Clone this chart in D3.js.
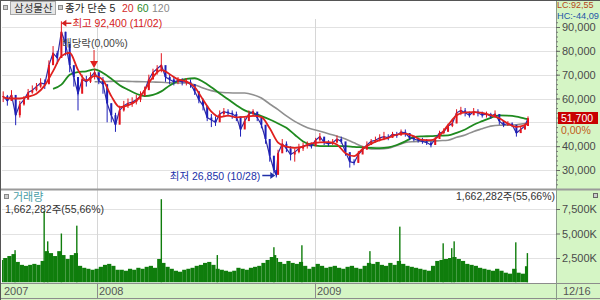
<!DOCTYPE html>
<html><head><meta charset="utf-8">
<script src="https://cdn.jsdelivr.net/npm/d3@7"></script>
<style>
body{margin:0;background:#fff;}
svg{display:block;font-family:"Liberation Sans","Noto Sans CJK KR",Arial,sans-serif;}
</style>
</head><body>
<svg id="c" width="600" height="300"></svg>
<script>
// ---------------- DATA ----------------
const priceDates = [
"2007-07-27","2007-08-03","2007-08-10","2007-08-17","2007-08-24","2007-08-31","2007-09-07","2007-09-14","2007-09-21","2007-09-28","2007-10-05","2007-10-12","2007-10-19","2007-10-26","2007-11-02","2007-11-09","2007-11-16","2007-11-23","2007-11-30","2007-12-07","2007-12-14","2007-12-21","2007-12-28",
"2008-01-04","2008-01-11","2008-01-18","2008-01-25","2008-02-01","2008-02-08","2008-02-15","2008-02-22","2008-02-29","2008-03-07","2008-03-14","2008-03-21","2008-03-28","2008-04-04","2008-04-11","2008-04-18","2008-04-25","2008-05-02","2008-05-09","2008-05-16","2008-05-23","2008-05-30","2008-06-06","2008-06-13","2008-06-20","2008-06-27","2008-07-04","2008-07-11","2008-07-18","2008-07-25","2008-08-01","2008-08-08","2008-08-15","2008-08-22","2008-08-29","2008-09-05","2008-09-12","2008-09-19","2008-09-26","2008-10-03","2008-10-10","2008-10-17","2008-10-24","2008-10-28","2008-10-31","2008-11-07","2008-11-14","2008-11-21","2008-11-28","2008-12-05","2008-12-12","2008-12-19","2008-12-26",
"2009-01-02","2009-01-09","2009-01-16","2009-01-23","2009-01-30","2009-02-06","2009-02-13","2009-02-20","2009-02-27","2009-03-06","2009-03-13","2009-03-20","2009-03-27","2009-04-03","2009-04-10","2009-04-17","2009-04-24","2009-05-01","2009-05-08","2009-05-15","2009-05-22","2009-05-29","2009-06-05","2009-06-12","2009-06-19","2009-06-26","2009-07-03","2009-07-10","2009-07-17","2009-07-24","2009-07-31","2009-08-07","2009-08-14","2009-08-21","2009-08-28","2009-09-04","2009-09-11","2009-09-18","2009-09-25","2009-10-02","2009-10-09","2009-10-16","2009-10-23","2009-10-30","2009-11-06","2009-11-13","2009-11-20","2009-11-27","2009-12-04","2009-12-11","2009-12-16"
];
const closes = [
61000,59000,61500,53000,57500,59500,62500,63500,65000,66500,66000,74000,79000,77000,88000,83000,74000,69000,62000,68000,67000,69000,71000,
67500,66000,58000,53000,49000,55000,57000,58000,58500,59500,61000,63500,68000,71000,72500,74000,69000,68000,67000,67500,67000,67000,66000,63000,59500,57000,52000,51000,50000,53500,54500,54000,53500,52500,47000,50500,53500,54500,52000,49000,43000,36000,30000,28000,37000,41000,39000,36500,37500,39000,40000,40500,40000,
42500,44000,41500,41000,41500,43000,42000,37500,33500,33000,36500,38500,40500,42000,42500,43500,44000,43500,45000,44500,46000,45500,43500,43000,42500,42000,41500,40500,43000,45500,46000,48500,49500,54000,55000,54000,53000,54500,54000,53000,53500,52500,53500,50500,49000,49500,49000,45500,47000,48500,51700
];
const highs = [
63000,61500,63500,60000,59000,61000,64000,65500,66500,68500,68000,76000,82000,80000,92400,88000,79000,73000,69000,70000,69500,71000,72500,
71000,69000,63000,58000,54000,57000,59000,60000,60500,61500,63000,65000,70000,72500,74000,79000,73000,70000,69000,69000,68500,68500,68000,66000,63000,60000,56000,53500,52500,55000,56000,55500,55000,54500,51000,52000,55000,55500,54000,51000,47000,41000,34000,30000,38500,43000,42000,40000,39000,41000,41500,42000,41500,
43500,45500,43500,42500,43000,44500,44000,41000,36000,34500,38000,40000,42000,43000,44000,45000,46000,45000,46000,46000,47000,47000,45500,44500,43500,43500,43000,42000,44000,46500,47500,49500,51000,55500,56500,56000,54500,56000,55500,54500,54500,54000,55000,53000,50500,50500,50000,48500,48500,49500,52500
];
const lows = [
58500,57000,59000,48800,52000,57000,60000,62000,63000,64500,64000,66000,74000,74500,80000,78000,71000,65000,55000,64000,65000,66500,68000,
66000,62000,50000,50000,46000,50000,54500,56000,56500,57500,58500,61000,64000,68000,70000,71000,67000,66000,65500,66000,65500,65500,64500,61500,58000,55000,50500,48000,48500,51000,52500,52500,51500,50500,44000,47500,52000,52500,50500,47500,41000,33500,28500,26850,28000,38000,37500,34000,33500,37000,38000,39000,39000,
40000,42000,40500,40000,40500,41500,41000,36000,31000,32000,33000,37000,39000,40500,41500,42000,42500,42500,43500,43500,44500,44000,42500,42000,41500,41000,40500,39500,40500,44000,45000,46500,48000,52000,53000,52500,52000,53000,52500,52000,52000,51500,52000,49000,48000,48500,48000,44000,45500,47000,48500
];
// weekly volume, thousand shares
const volumes = [
2300,2500,2700,2900,2100,1800,1700,1800,1900,1800,2200,3200,3000,2700,3200,2800,2400,2800,3000,1700,1500,1400,1300,
1400,1600,1800,1900,1700,1300,1300,1200,1400,1300,1500,1400,1600,1700,1500,2400,2000,1600,1400,1200,1100,1300,1400,1500,1700,1800,2000,2100,1800,1400,1300,1200,1100,1200,1500,1400,1300,1500,1600,1700,2000,2300,2600,2800,2500,2100,1900,2200,2000,1900,2100,1700,1400,
1600,1900,1700,1500,1600,1700,1500,1400,1600,1700,1500,1400,1700,2000,1900,2100,1800,1700,2000,1800,2200,1900,1700,1600,1500,1400,1300,1200,1700,2200,2300,2400,2500,2600,2400,2200,1900,1800,1700,1500,1400,1300,1200,1400,1200,1000,900,1400,1000,900,1662
];
// single-day volume spikes, thousand shares
const spikeDates = ["2007-08-16","2007-10-04","2007-10-10","2007-11-02","2007-11-28","2008-04-18","2008-07-21","2008-10-24","2008-12-10","2009-04-01","2009-05-20","2009-07-30","2009-08-13","2009-08-17","2009-11-26","2009-12-15"];
const spikeVolumes = [3300,7300,4200,5000,5800,8500,2800,3600,3800,3200,5700,4000,3500,4200,4100,3000];

const maDates = [
"2007-07-27","2007-08-10","2007-08-24","2007-09-07","2007-09-21","2007-10-05","2007-10-19","2007-11-02","2007-11-16","2007-11-30","2007-12-14","2007-12-28",
"2008-01-11","2008-01-25","2008-02-08","2008-02-22","2008-03-07","2008-03-21","2008-04-04","2008-04-18","2008-05-02","2008-05-16","2008-05-30","2008-06-13","2008-06-27","2008-07-11","2008-07-25","2008-08-08","2008-08-22","2008-09-05","2008-09-19","2008-10-03","2008-10-17","2008-10-31","2008-11-14","2008-11-28","2008-12-12","2008-12-26",
"2009-01-09","2009-01-23","2009-02-06","2009-02-20","2009-03-06","2009-03-20","2009-04-03","2009-04-17","2009-05-01","2009-05-15","2009-05-29","2009-06-12","2009-06-26","2009-07-10","2009-07-24","2009-08-07","2009-08-21","2009-09-04","2009-09-18","2009-10-02","2009-10-16","2009-10-30","2009-11-13","2009-11-27","2009-12-11","2009-12-16"
];
const ma20 = [
60500,60000,60000,60800,62000,65500,71500,77800,79200,72000,67500,69500,
67700,61000,56400,57100,59000,63500,69000,72000,70200,68000,67200,64800,59500,54500,52300,52800,52100,52300,52700,52200,47500,41500,39800,39300,39800,41200,
41600,41700,40700,37000,35800,38800,41000,42500,43500,44800,45300,44100,42600,42500,44400,48800,53000,54200,54300,54000,53000,51700,49500,48100,48800,49700
];
const ma60 = [
null,null,null,null,null,null,64000,65800,70000,71100,71400,72200,
70700,68300,65600,63700,62000,61000,61500,63000,65500,67300,68200,68500,67000,64700,62100,59700,57200,55000,53800,52600,51200,49500,47700,44800,42000,40600,
40000,40000,40000,40000,39700,39500,39300,39200,39500,40500,42000,43800,44100,44200,44400,44500,45600,47000,49000,50500,51900,52900,52800,52400,51600,51400
];
const ma120 = [
null,null,null,null,null,null,null,null,null,null,null,67000,
67100,67200,67300,67200,67100,67000,66900,66800,66600,66500,66500,65800,64400,63300,62600,62400,62300,62300,61600,60200,57700,55300,52700,50400,48600,47200,
46300,45200,44200,43000,41400,39900,38800,38800,39100,40300,41500,41900,42100,42100,42300,42500,43700,44700,46200,47300,48400,48800,48800,49000,49500,49700
];
const gridTicks = [30000,40000,50000,60000,70000,80000,90000];
const priceLabelTicks = [30000,40000,60000,70000,80000,90000];
const volumeTicks = [2500,5000,7500];
const yearLabels = ["2007","2008","2009"];
const yearDates = ["2007-07-25","2008-01-01","2009-01-01"];
const lastDateLabel = "12/16";
const peak = {date:"2007-11-02", value:92400, label:"최고 92,400 (11/02)"};
const trough = {date:"2008-10-28", value:26850, label:"최저 26,850 (10/28)"};
const exDiv = {date:"2007-12-27", label:"배당락(0,00%)"};
const lastPrice = 51700;
const lastChange = "0,00%";
const volumeLabel = "1,662,282주(55,66%)";
const headerItems = [{t:"종가 단순 5",c:"#222"},{t:"20",c:"#d42a2a"},{t:"60",c:"#2a8a2a"},{t:"120",c:"#8a8a8a"}];

// ---------------- CHART ----------------
const parse = d3.timeParse("%Y-%m-%d");
const svg = d3.select("#c");
const L = 2, R = 556, mainTop = 19, mainBot = 188, volTop = 191, volBot = 282.5;
const GREEN_BG = "#d5f5c5";

const x = d3.scaleTime()
  .domain([parse("2007-07-25"), parse("2008-01-01"), parse("2009-01-01"), parse("2009-12-16")])
  .range([2, 97, 315, 528]);
const y = d3.scaleLinear().domain([30000, 90000]).range([170, 27]);
const yv = d3.scaleLinear().domain([0, 7500]).range([volBot, 209]);

const fmt = d3.format(",");

// clips
const defs = svg.append("defs");
defs.append("clipPath").attr("id","mainClip").append("rect").attr("x",L).attr("y",mainTop).attr("width",R-L).attr("height",mainBot-mainTop);
defs.append("clipPath").attr("id","volClip").append("rect").attr("x",L).attr("y",volTop).attr("width",R-L).attr("height",volBot-volTop);

// backgrounds
svg.append("rect").attr("x",R).attr("y",0).attr("width",600-R).attr("height",300).attr("fill",GREEN_BG);
svg.append("rect").attr("x",0).attr("y",283).attr("width",R).attr("height",17).attr("fill",GREEN_BG);

// grid lines
const grid = svg.append("g").attr("stroke","#e2e2e2").attr("stroke-width",1);
gridTicks.forEach(v => grid.append("line").attr("x1",L).attr("x2",R).attr("y1",Math.round(y(v))+0.5).attr("y2",Math.round(y(v))+0.5));
volumeTicks.forEach(v => grid.append("line").attr("x1",L).attr("x2",R).attr("y1",Math.round(yv(v))+0.5).attr("y2",Math.round(yv(v))+0.5));
yearDates.slice(1).forEach(d => grid.append("line").attr("x1",Math.round(x(parse(d)))+0.5).attr("x2",Math.round(x(parse(d)))+0.5).attr("y1",mainTop).attr("y2",volBot).attr("stroke","#d6d6d6"));

// price data
const data = priceDates.map((d,i)=>({
  date: parse(d), c: closes[i], h: highs[i], l: lows[i], v: volumes[i],
  prev: i === 0 ? closes[0] : closes[i-1]
}));
data.forEach(d => d.up = d.c >= d.prev);
const UP = "#e3141c", DOWN = "#1d1fb8";

const mg = svg.append("g").attr("clip-path","url(#mainClip)");

const maLine = arr => d3.line()
  .defined((d,i)=>arr[i] !== null)
  .x((d)=>x(parse(d)))
  .y((d,i)=>y(arr[i]))
  .curve(d3.curveMonotoneX);

mg.append("path").attr("d", maLine(ma120)(maDates)).attr("fill","none").attr("stroke","#8f8f8f").attr("stroke-width",1.6);
mg.append("path").attr("d", maLine(ma60)(maDates)).attr("fill","none").attr("stroke","#1f8a1f").attr("stroke-width",1.8);

// candles
mg.append("path")
  .attr("d", d3.line().x(d=>x(d.date)).y(d=>y(d.c))(data))
  .attr("fill","none").attr("stroke","#2f2aa6").attr("stroke-width",1.2);
mg.selectAll("line.wick").data(data).join("line")
  .attr("x1",d=>x(d.date)).attr("x2",d=>x(d.date))
  .attr("y1",d=>y(d.h)).attr("y2",d=>y(d.l))
  .attr("stroke",d=>d.up?UP:DOWN).attr("stroke-width",1);
mg.selectAll("rect.body").data(data).join("rect")
  .attr("x",d=>x(d.date)-1).attr("width",2)
  .attr("y",d=>y(Math.max(d.prev,d.c)))
  .attr("height",d=>Math.max(1, Math.abs(y(d.prev)-y(d.c))))
  .attr("fill",d=>d.up?UP:DOWN);

mg.append("path").attr("d", maLine(ma20)(maDates)).attr("fill","none").attr("stroke","#e0201e").attr("stroke-width",1.8);

// volume bars
const vg = svg.append("g").attr("clip-path","url(#volClip)");
const VOL = "#0f7d0c";
vg.selectAll("rect.vol").data(data).join("rect")
  .attr("x",(d,i)=> i===0 ? x(d.date)-4 : x(data[i-1].date))
  .attr("width",(d,i)=> i===0 ? 4 : Math.max(0.5, x(d.date)-x(data[i-1].date)))
  .attr("y",d=>yv(d.v)).attr("height",d=>volBot-yv(d.v))
  .attr("fill",VOL);
vg.selectAll("rect.spike").data(spikeDates).join("rect")
  .attr("x",d=>x(parse(d))-0.7).attr("width",1.4)
  .attr("y",(d,i)=>yv(spikeVolumes[i])).attr("height",(d,i)=>volBot-yv(spikeVolumes[i]))
  .attr("fill",VOL);

// panel separators / frame
svg.append("line").attr("x1",0).attr("x2",600).attr("y1",189.5).attr("y2",189.5).attr("stroke","#9a9a9a").attr("stroke-width",2);
svg.append("line").attr("x1",0).attr("x2",600).attr("y1",283.5).attr("y2",283.5).attr("stroke","#8c8c8c");
svg.append("line").attr("x1",0).attr("x2",600).attr("y1",298.5).attr("y2",298.5).attr("stroke","#8c8c8c");
svg.append("line").attr("x1",R+0.5).attr("x2",R+0.5).attr("y1",0).attr("y2",300).attr("stroke","#8a9a8a");
svg.append("line").attr("x1",0.5).attr("x2",0.5).attr("y1",0).attr("y2",300).attr("stroke","#555");
svg.append("line").attr("x1",0).attr("x2",600).attr("y1",0.5).attr("y2",0.5).attr("stroke","#555");
yearDates.slice(1).forEach(d => svg.append("line").attr("x1",Math.round(x(parse(d)))+0.5).attr("x2",Math.round(x(parse(d)))+0.5).attr("y1",284).attr("y2",298).attr("stroke","#8c8c8c"));

// right price axis
const minor = svg.append("g").attr("transform",`translate(${R},0)`)
  .call(d3.axisRight(y).tickValues(d3.range(24000, 94000, 2000)).tickFormat("").tickSize(2));
minor.select(".domain").remove();
minor.selectAll("line").attr("stroke","#777");
const pa = svg.append("g").attr("transform",`translate(${R},0)`)
  .call(d3.axisRight(y).tickValues(priceLabelTicks).tickFormat(fmt).tickSize(4).tickPadding(2));
pa.select(".domain").remove();
pa.selectAll("line").attr("stroke","#666");
pa.selectAll("text").attr("font-size",11).attr("fill","#4a4a4a").attr("font-family","Liberation Sans, Arial, sans-serif");

// right volume axis
const va = svg.append("g").attr("transform",`translate(${R},0)`)
  .call(d3.axisRight(yv).tickValues(volumeTicks).tickFormat(d=>fmt(d)+"K").tickSize(4).tickPadding(2));
va.select(".domain").remove();
va.selectAll("line").attr("stroke","#666");
va.selectAll("text").attr("font-size",11).attr("fill","#4a4a4a").attr("font-family","Liberation Sans, Arial, sans-serif");

// bottom date labels
const tl = svg.append("g").attr("font-size",11).attr("fill","#555");
yearLabels.forEach((t,i)=> tl.append("text").attr("x",Math.round(x(parse(yearDates[i])))+2).attr("y",295).text(t));
tl.append("text").attr("x",563).attr("y",295).text(lastDateLabel);

// header
svg.append("rect").attr("x",3.5).attr("y",5.5).attr("width",4).attr("height",4).attr("fill","#ccc").attr("stroke","#888");
svg.append("rect").attr("x",10.5).attr("y",1.5).attr("width",45).attr("height",13).attr("fill","#e6e6e6").attr("stroke","#a8a8a8");
svg.append("text").attr("x",14).attr("y",12).attr("font-size",10.5).attr("fill","#333").text("삼성물산");
svg.append("rect").attr("x",58.5).attr("y",5.5).attr("width",4).attr("height",4).attr("fill","#ccc").attr("stroke","#888");
const hx = [65, 122, 137, 152];
headerItems.forEach((h,i)=> svg.append("text").attr("x",hx[i]).attr("y",12).attr("font-size",10.5).attr("fill",h.c).text(h.t));

// LC / HC
svg.append("text").attr("x",557).attr("y",8).attr("font-size",9).attr("fill","#b5481a").text("LC:92,55");
svg.append("text").attr("x",557).attr("y",19).attr("font-size",9).attr("textLength",42).attr("lengthAdjust","spacingAndGlyphs").attr("fill","#2456a8").text("HC:-44,09");

// peak annotation
const px = x(parse(peak.date)), py = y(peak.value) + 2;
svg.append("line").attr("x1",px+3).attr("x2",px+10).attr("y1",py).attr("y2",py).attr("stroke","#d42020").attr("stroke-width",1.5);
svg.append("path").attr("d",`M${px},${py}L${px+5},${py-3.5}L${px+5},${py+3.5}Z`).attr("fill","#d42020");
svg.append("text").attr("x",px+11).attr("y",py+4).attr("font-size",10.5).attr("fill","#d42020").text(peak.label);

// ex-dividend annotation
const ex = x(parse(exDiv.date));
svg.append("text").attr("x",62).attr("y",47).attr("font-size",10.5).attr("fill","#444").text(exDiv.label);
svg.append("line").attr("x1",ex).attr("x2",ex).attr("y1",50).attr("y2",62).attr("stroke","#e02020").attr("stroke-width",1);
svg.append("path").attr("d",`M${ex-4},61L${ex+4},61L${ex},68Z`).attr("fill","#e02020");

// trough annotation
const tx = x(parse(trough.date)), ty = y(trough.value) - 2;
svg.append("line").attr("x1",tx-14).attr("x2",tx-5).attr("y1",ty).attr("y2",ty).attr("stroke","#2030a8").attr("stroke-width",1.5);
svg.append("path").attr("d",`M${tx-1},${ty}L${tx-6},${ty-3.5}L${tx-6},${ty+3.5}Z`).attr("fill","#2030a8");
svg.append("text").attr("x",tx-16).attr("y",ty+4).attr("text-anchor","end").attr("font-size",10.5).attr("fill","#2030a8").text(trough.label);

// last price box
const ly = Math.round(y(lastPrice));
svg.append("rect").attr("x",558).attr("y",ly-6).attr("width",40).attr("height",12).attr("fill","#c80000");
svg.append("text").attr("x",561).attr("y",ly+4).attr("font-size",10.5).attr("fill","#fff").text(fmt(lastPrice));
svg.append("text").attr("x",561).attr("y",ly+16).attr("font-size",10.5).attr("fill","#c0601a").text(lastChange);

// volume panel labels
svg.append("rect").attr("x",4.5).attr("y",194.5).attr("width",4).attr("height",4).attr("fill","#ccc").attr("stroke","#888");
svg.append("text").attr("x",13).attr("y",201).attr("font-size",11).attr("fill","#4a9ea6").text("거래량");
svg.append("text").attr("x",5).attr("y",213).attr("font-size",10.5).attr("fill","#333").text(volumeLabel);
svg.append("text").attr("x",555).attr("y",200).attr("text-anchor","end").attr("font-size",10.5).attr("fill","#333").text(volumeLabel);
svg.append("rect").attr("x",593.5).attr("y",193.5).attr("width",4).attr("height",4).attr("fill","#ccc").attr("stroke","#666");
</script>
</body></html>
